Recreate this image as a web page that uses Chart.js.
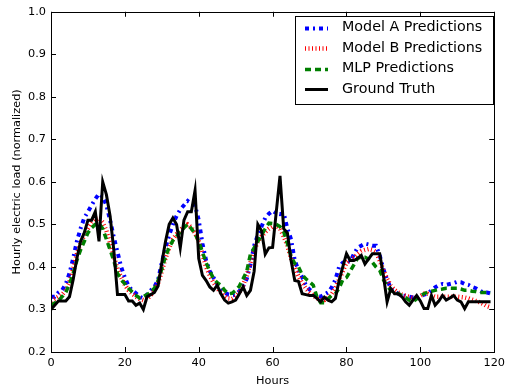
<!DOCTYPE html>
<html><head><meta charset="utf-8">
<script src="https://cdn.jsdelivr.net/npm/chart.js@4.4.1/dist/chart.umd.min.js"></script>
<style>html,body{margin:0;padding:0;background:#fff;}#wrap{width:509px;height:390px;}</style>
</head><body><div id="wrap"><canvas id="c" width="509" height="390"></canvas></div>
<script>
const hours = [0,1,2,3,4,5,6,7,8,9,10,11,12,13,14,15,16,17,18,19,20,21,22,23,24,25,26,27,28,29,30,31,32,33,34,35,36,37,38,39,40,41,42,43,44,45,46,47,48,49,50,51,52,53,54,55,56,57,58,59,60,61,62,63,64,65,66,67,68,69,70,71,72,73,74,75,76,77,78,79,80,81,82,83,84,85,86,87,88,89,90,91,92,93,94,95,96,97,98,99,100,101,102,103,104,105,106,107,108,109,110,111,112,113,114,115,116,117,118,119];

const modelA = [0.33,0.33,0.34,0.345,0.36,0.385,0.42,0.46,0.49,0.515,
0.53,0.545,0.56,0.572,0.565,0.545,0.51,0.47,0.435,0.40,
0.375,0.355,0.345,0.338,0.33,0.326,0.335,0.345,0.353,0.37,
0.41,0.445,0.475,0.50,0.52,0.535,0.545,0.555,0.548,0.545,
0.51,0.455,0.415,0.39,0.375,0.36,0.35,0.34,0.335,0.333,
0.335,0.343,0.355,0.372,0.405,0.45,0.475,0.495,0.515,0.525,
0.532,0.526,0.524,0.527,0.49,0.465,0.415,0.392,0.376,0.357,
0.347,0.34,0.333,0.33,0.335,0.34,0.352,0.37,0.40,0.41,
0.415,0.412,0.43,0.445,0.45,0.455,0.453,0.45,0.45,0.427,
0.395,0.37,0.35,0.342,0.337,0.333,0.332,0.33,0.328,0.326,
0.33,0.335,0.337,0.345,0.352,0.357,0.36,0.358,0.36,0.362,
0.365,0.364,0.36,0.358,0.353,0.35,0.345,0.34,0.34,0.338];

const modelB = [0.32,0.325,0.33,0.335,0.345,0.365,0.395,0.43,0.455,0.475,
0.49,0.505,0.513,0.515,0.505,0.485,0.455,0.425,0.395,0.375,
0.358,0.345,0.337,0.33,0.325,0.322,0.325,0.333,0.345,0.362,
0.39,0.42,0.445,0.465,0.477,0.487,0.495,0.50,0.493,0.48,
0.46,0.43,0.40,0.38,0.363,0.35,0.34,0.332,0.326,0.325,
0.33,0.34,0.356,0.38,0.41,0.438,0.46,0.472,0.482,0.49,
0.495,0.497,0.49,0.472,0.45,0.42,0.398,0.378,0.362,0.35,
0.34,0.333,0.326,0.322,0.322,0.327,0.336,0.35,0.37,0.39,
0.41,0.418,0.422,0.43,0.437,0.44,0.442,0.44,0.435,0.415,
0.392,0.372,0.356,0.346,0.34,0.335,0.332,0.33,0.327,0.327,
0.332,0.337,0.337,0.333,0.33,0.33,0.33,0.33,0.33,0.33,
0.33,0.329,0.328,0.326,0.323,0.32,0.317,0.313,0.308,0.305];

const mlp = [0.31,0.315,0.32,0.33,0.34,0.36,0.385,0.415,0.44,0.46,
0.48,0.492,0.50,0.502,0.49,0.465,0.44,0.415,0.385,0.37,
0.36,0.35,0.341,0.333,0.327,0.33,0.335,0.34,0.35,0.368,
0.395,0.425,0.446,0.462,0.472,0.482,0.492,0.50,0.49,0.478,
0.46,0.435,0.41,0.39,0.373,0.363,0.357,0.345,0.337,0.338,
0.345,0.355,0.372,0.39,0.43,0.445,0.46,0.475,0.49,0.503,
0.502,0.50,0.495,0.483,0.455,0.425,0.408,0.40,0.382,0.372,
0.365,0.357,0.33,0.316,0.316,0.325,0.333,0.337,0.35,0.37,
0.375,0.39,0.405,0.42,0.423,0.423,0.418,0.411,0.40,0.392,
0.37,0.355,0.345,0.34,0.337,0.333,0.328,0.322,0.318,0.325,
0.333,0.337,0.341,0.343,0.345,0.347,0.348,0.35,0.35,0.35,
0.35,0.348,0.345,0.345,0.343,0.342,0.34,0.34,0.34,0.34];

const groundTruth = [0.30,0.31,0.32,0.32,0.32,0.33,0.37,0.42,0.46,0.48,
0.51,0.51,0.53,0.46,0.60,0.57,0.52,0.44,0.335,0.335,
0.335,0.32,0.32,0.31,0.315,0.30,0.33,0.335,0.34,0.355,
0.41,0.46,0.50,0.515,0.50,0.445,0.51,0.53,0.53,0.58,
0.42,0.38,0.368,0.353,0.345,0.357,0.337,0.322,0.315,0.318,
0.322,0.337,0.353,0.333,0.345,0.39,0.50,0.485,0.43,0.445,
0.446,0.53,0.614,0.49,0.48,0.415,0.368,0.366,0.337,0.335,
0.333,0.333,0.326,0.318,0.329,0.322,0.318,0.326,0.368,0.40,
0.431,0.415,0.415,0.42,0.427,0.407,0.419,0.431,0.431,0.431,
0.38,0.318,0.349,0.337,0.337,0.33,0.318,0.31,0.322,0.333,
0.32,0.302,0.302,0.333,0.31,0.32,0.333,0.322,0.327,0.333,
0.322,0.318,0.302,0.318,0.318,0.318,0.318,0.318,0.318,0.318];

const seriesNames = ['Model A Predictions','Model B Predictions','MLP Predictions','Ground Truth'];
const xTicks = [0,20,40,60,80,100,120];
const yTicks = [0.2,0.3,0.4,0.5,0.6,0.7,0.8,0.9,1.0];
const xTitle = 'Hours';
const yTitle = 'Hourly electric load (normalized)';

const FONT = 'DejaVu Sans';
const toPts = arr => hours.map((h,i)=>({x:h,y:arr[i]}));

const styles = [
  {color:'#0000ff', width:4, dash:[4,4,2,4], order:3},
  {color:'#ff0000', width:4.5, dash:[1,2.5], order:2},
  {color:'#007f00', width:3.5, dash:[6,4], order:1},
  {color:'#000000', width:3, dash:[], order:0}
];
const seriesValues = [modelA, modelB, mlp, groundTruth];

const datasets = seriesValues.map((vals,i)=>({
  label: seriesNames[i],
  data: toPts(vals),
  borderColor: styles[i].color,
  backgroundColor: styles[i].color,
  borderWidth: styles[i].width,
  borderDash: styles[i].dash,
  borderCapStyle: 'butt',
  borderJoinStyle: 'miter',
  pointRadius: 0,
  tension: 0,
  fill: false,
  order: styles[i].order
}));

const framePlugin = {
  id: 'frame',
  afterDatasetsDraw(chart){
    const {ctx, chartArea:a, scales:{x,y}} = chart;
    ctx.save();
    ctx.setLineDash([]);
    ctx.strokeStyle = '#000';
    ctx.lineWidth = 1;
    ctx.beginPath();
    const L = 5;
    xTicks.forEach(v=>{
      const px = Math.round(x.getPixelForValue(v)) + 0.5;
      ctx.moveTo(px, a.bottom); ctx.lineTo(px, a.bottom - L);
      ctx.moveTo(px, a.top); ctx.lineTo(px, a.top + L);
    });
    yTicks.forEach(v=>{
      const py = Math.round(y.getPixelForValue(v)) + 0.5;
      ctx.moveTo(a.left, py); ctx.lineTo(a.left + L, py);
      ctx.moveTo(a.right, py); ctx.lineTo(a.right - L, py);
    });
    ctx.stroke();
    ctx.strokeRect(Math.round(a.left)+0.5, Math.round(a.top)+0.5, Math.round(a.right-a.left), Math.round(a.bottom-a.top));

    // legend
    const bx = 295.5, by = 16.5, bw = 198, bh = 88;
    ctx.fillStyle = '#fff';
    ctx.fillRect(bx, by, bw, bh);
    ctx.strokeRect(bx, by, bw, bh);
    const rows = [27.7, 48.3, 68.5, 89];
    ctx.font = '14.3px "' + FONT + '"';
    ctx.textBaseline = 'middle';
    ctx.textAlign = 'left';
    chart.data.datasets.forEach((ds,i)=>{
      const ry = Math.round(rows[i]) + 0.5;
      ctx.save();
      ctx.strokeStyle = ds.borderColor;
      ctx.lineWidth = ds.borderWidth;
      ctx.setLineDash(ds.borderDash);
      ctx.lineCap = 'butt';
      ctx.beginPath();
      ctx.moveTo(305, ry); ctx.lineTo(328, ry);
      ctx.stroke();
      ctx.restore();
      ctx.fillStyle = '#000';
      ctx.fillText(ds.label, 342, rows[i]);
    });
    ctx.restore();
  }
};

new Chart(document.getElementById('c'), {
  type: 'line',
  data: { datasets },
  options: {
    responsive: false,
    animation: false,
    devicePixelRatio: 1,
    layout: { padding: { top: 10, right: 13, left: 0, bottom: 0 } },
    plugins: { legend: { display: false }, tooltip: { enabled: false } },
    scales: {
      x: {
        type: 'linear', min: 0, max: 120,
        afterBuildTicks: s => { s.ticks = xTicks.map(v=>({value:v})); },
        afterFit: s => { s.height = 38; },
        grid: { display: false, drawTicks: false },
        border: { display: false },
        ticks: { color:'#000', font:{family:FONT, size:11.3}, padding: 4, maxRotation:0, autoSkip:false, callback: v => String(v) },
        title: { display: true, text: xTitle, color:'#000', font:{family:FONT, size:11.3}, padding:{top:0,bottom:2} }
      },
      y: {
        type: 'linear', min: 0.2, max: 1.0,
        afterBuildTicks: s => { s.ticks = yTicks.map(v=>({value:v})); },
        afterFit: s => { s.width = 51; },
        grid: { display: false, drawTicks: false },
        border: { display: false },
        ticks: { color:'#000', font:{family:FONT, size:11.3}, padding: 5, autoSkip:false, callback: v => Number(v).toFixed(1) },
        title: { display: true, text: yTitle, color:'#000', font:{family:FONT, size:11.3}, padding:{top:10.7,bottom:0} }
      }
    }
  },
  plugins: [framePlugin]
});
</script>
</body></html>
